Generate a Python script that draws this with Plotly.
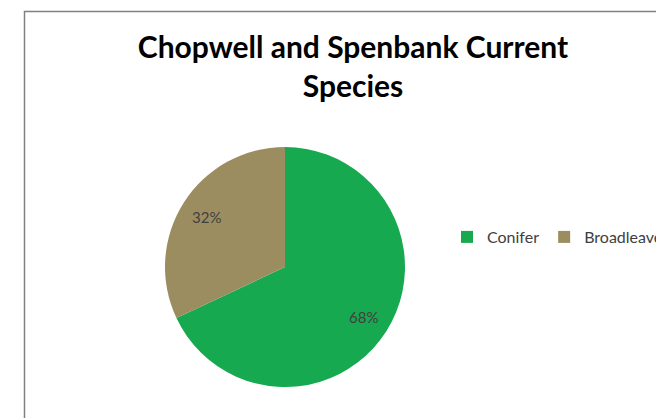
import math
import plotly.graph_objects as go

categories = ["Conifer", "Broadleaved"]
values = [68, 32]
colors = ["#17A94F", "#9C8D60"]
title_text = "Chopwell and Spenbank Current<br>Species"

W, H = 656, 418
# pie geometry (pixels)
CX, CY, R = 285, 267, 120
LABEL_R = 0.77

dom_x = [(CX - R) / W, (CX + R) / W]
dom_y = [(H - CY - R) / H, (H - CY + R) / H]

fig = go.Figure(go.Pie(
    labels=categories,
    values=values,
    sort=False,
    direction="clockwise",
    rotation=0,
    marker=dict(colors=colors, line=dict(width=0)),
    textinfo="none",
    domain=dict(x=dom_x, y=dom_y),
    hoverinfo="label+percent",
))

# percentage labels placed at the mid-angle of each slice (derived from values)
total = sum(values)
annotations = []
cum = 0.0
for v in values:
    mid = (cum + v / 2) / total * 2 * math.pi
    cum += v
    px = CX + LABEL_R * R * math.sin(mid)
    py = CY - LABEL_R * R * math.cos(mid)
    annotations.append(dict(
        x=px / W, y=1 - py / H, xref="paper", yref="paper",
        text=f"{round(v / total * 100)}%", showarrow=False,
        xanchor="center", yanchor="middle",
        font=dict(family="Lato, Open Sans, sans-serif", size=15, color="#404040"),
    ))

fig.update_layout(
    width=W, height=H,
    margin=dict(l=0, r=0, t=0, b=0, autoexpand=False),
    paper_bgcolor="white",
    plot_bgcolor="white",
    title=dict(
        text=title_text,
        x=353 / W, xanchor="center",
        y=1 - 58 / H, yanchor="middle",
        font=dict(family="Lato, Open Sans, sans-serif", size=30, color="#000000", weight="bold"),
    ),
    showlegend=True,
    legend=dict(
        orientation="h",
        x=447 / W, xanchor="left",
        y=1 - 237 / H, yanchor="middle",
        font=dict(family="Lato, Open Sans, sans-serif", size=16, color="#404040"),
        traceorder="normal",
        bgcolor="rgba(0,0,0,0)",
    ),
    annotations=annotations,
    shapes=[dict(
        type="rect", xref="paper", yref="paper",
        x0=24.5 / W, x1=1.05, y0=-0.05, y1=1 - 11.5 / H,
        line=dict(color="#808080", width=1.5),
        fillcolor="rgba(0,0,0,0)", layer="below",
    )],
)

fig.write_html("out.html")
